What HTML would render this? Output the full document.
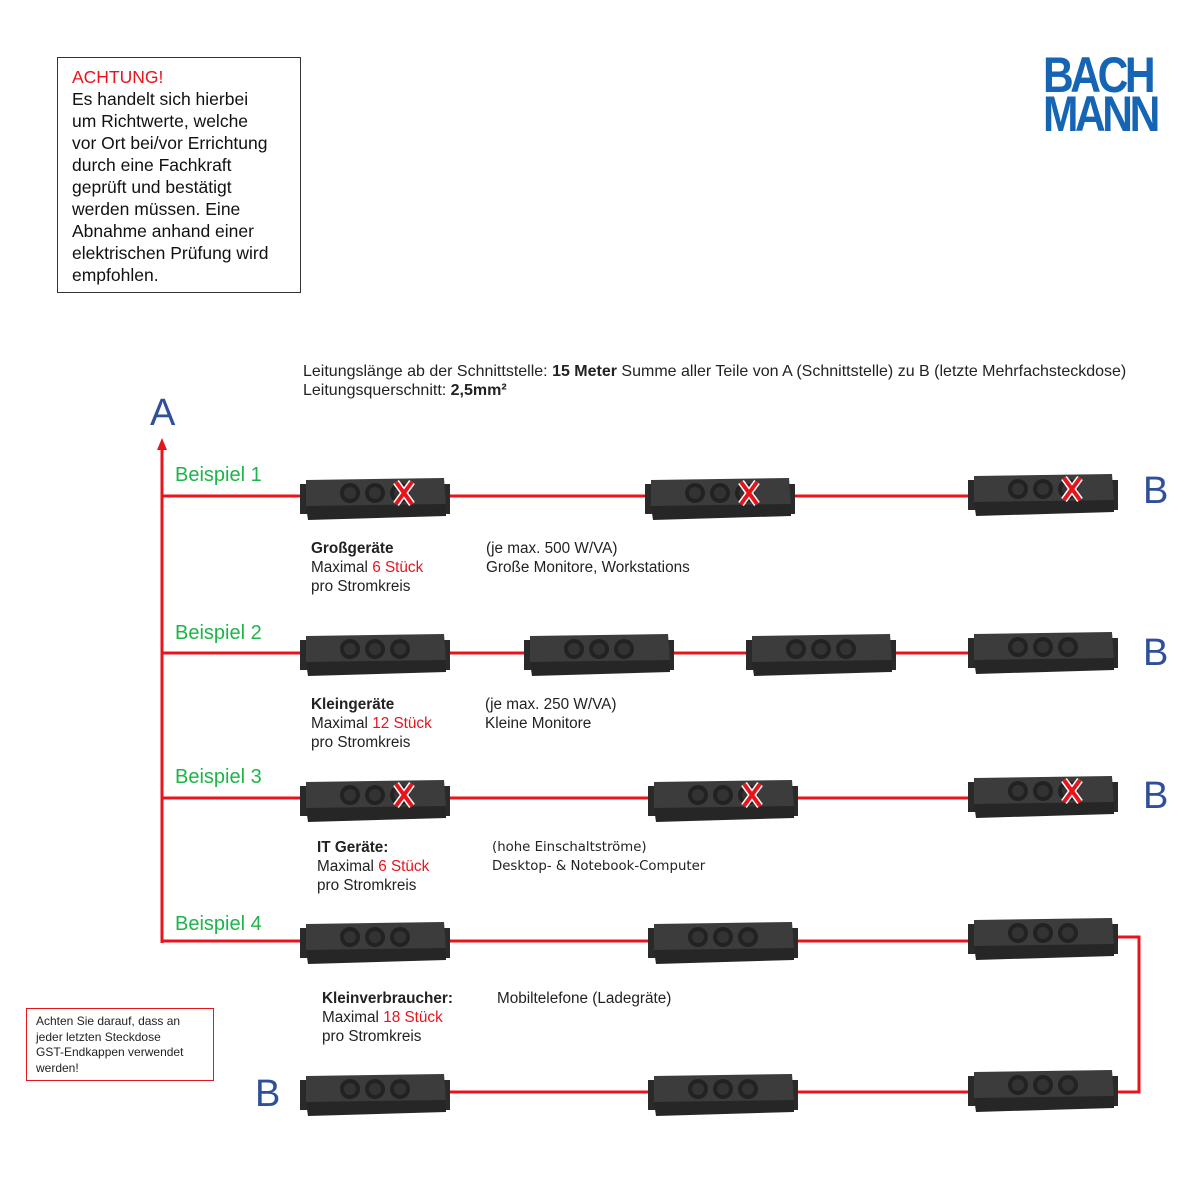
<!DOCTYPE html>
<html><head><meta charset="utf-8"><style>
body{margin:0;width:1200px;height:1200px;background:#fff;position:relative;font-family:"Liberation Sans",sans-serif;overflow:hidden}
.t{position:absolute;font-size:15.3px;line-height:19px;color:#222}
.r{color:#e8141c}
.g{position:absolute;color:#1db54a;font-size:20px}
.B{position:absolute;color:#2e4f9a;font-size:38px}
</style></head><body>
<div style="position:absolute;left:57px;top:57px;width:214px;height:218px;border:1px solid #333;padding:8px 14px;font-size:17.5px;line-height:22px;color:#111"><div style="width:205px"><b class="r" style="font-weight:normal">ACHTUNG!</b><br>Es handelt sich hierbei um Richtwerte, welche vor Ort bei/vor Errichtung durch eine Fachkraft geprüft und bestätigt werden müssen. Eine Abnahme anhand einer elektrischen Prüfung wird empfohlen.</div></div>
<div style="position:absolute;left:1043px;top:56px;color:#1565b4;font-weight:bold;font-size:50px;line-height:39px;letter-spacing:-4px;transform:scaleX(0.85);transform-origin:left">BACH<br>MANN</div>
<div class="t" style="left:303px;top:362px;font-size:16px">Leitungslänge ab der Schnittstelle: <b>15 Meter</b> Summe aller Teile von A (Schnittstelle) zu B (letzte Mehrfachsteckdose)<br>Leitungsquerschnitt: <b>2,5mm²</b></div>
<div class="B" style="left:150px;top:392px">A</div>
<div class="B" style="left:1143px;top:470px">B</div>
<div class="B" style="left:1143px;top:632px">B</div>
<div class="B" style="left:1143px;top:775px">B</div>
<div class="B" style="left:255px;top:1073px">B</div>
<div class="g" style="left:175px;top:464px">Beispiel 1</div>
<div class="g" style="left:175px;top:622px">Beispiel 2</div>
<div class="g" style="left:175px;top:766px">Beispiel 3</div>
<div class="g" style="left:175px;top:913px">Beispiel 4</div>
<div class="t" style="left:311px;top:539px"><b>Großgeräte</b><br>Maximal <span class="r">6 Stück</span><br>pro Stromkreis</div>
<div class="t" style="left:486px;top:539px">(je max. 500 W/VA)<br>Große Monitore, Workstations</div>
<div class="t" style="left:311px;top:695px"><b>Kleingeräte</b><br>Maximal <span class="r">12 Stück</span><br>pro Stromkreis</div>
<div class="t" style="left:485px;top:695px">(je max. 250 W/VA)<br>Kleine Monitore</div>
<div class="t" style="left:317px;top:838px"><b>IT Geräte:</b><br>Maximal <span class="r">6 Stück</span><br>pro Stromkreis</div>
<div class="t" style="left:492px;top:838px;font-family:'DejaVu Sans',sans-serif;font-size:13.3px">(hohe Einschaltströme)<br>Desktop- &amp; Notebook-Computer</div>
<div class="t" style="left:322px;top:989px"><b>Kleinverbraucher:</b><br>Maximal <span class="r">18 Stück</span><br>pro Stromkreis</div>
<div class="t" style="left:497px;top:989px">Mobiltelefone (Ladegräte)</div>
<div style="position:absolute;left:26px;top:1008px;width:168px;height:66px;border:1px solid #e8141c;padding:5px 9px 0;font-size:12px;line-height:15.5px;color:#222"><div style="width:150px">Achten Sie darauf, dass an jeder letzten Steckdose GST-Endkappen verwendet werden!</div></div>
<svg width="1200" height="1200" style="position:absolute;left:0;top:0">
<defs>
<g id="s">
<rect x="0" y="8" width="14" height="30" fill="#2a2a2a"/>
<rect x="136" y="8" width="14" height="30" fill="#2a2a2a"/>
<path d="M6 4 L144 2 L146 30 L6 32Z" fill="#3c3c3c"/>
<path d="M6 30 L146 28 L146 40 L8 44Z" fill="#262626"/>
<circle cx="50" cy="17" r="10" fill="#222"/><circle cx="75" cy="17" r="10" fill="#222"/><circle cx="100" cy="17" r="10" fill="#222"/>
<circle cx="50" cy="17" r="6" fill="#333"/><circle cx="75" cy="17" r="6" fill="#333"/><circle cx="100" cy="17" r="6" fill="#333"/>
</g>
<g id="x"><path d="M96 6 L112 28 M112 6 L96 28" stroke="#fff" stroke-width="7"/><path d="M96 6 L112 28 M112 6 L96 28" stroke="#e8141c" stroke-width="4"/></g>
</defs>
<g stroke="#e8141c" stroke-width="3" fill="none">
<path d="M162 943 V448"/>
<path d="M162 496 H1000"/><path d="M162 653 H1000"/><path d="M162 798 H1000"/><path d="M162 941 H1000"/><path d="M330 1092 H1000"/>
<path d="M1110 937 H1139 V1092 H1110"/>
</g>
<path d="M162 438 L157 450 L167 450Z" fill="#e8141c"/>
<use href="#s" x="300" y="476"/><use href="#x" x="300" y="476"/>
<use href="#s" x="645" y="476"/><use href="#x" x="645" y="476"/>
<use href="#s" x="968" y="472"/><use href="#x" x="968" y="472"/>
<use href="#s" x="300" y="632"/><use href="#s" x="524" y="632"/><use href="#s" x="746" y="632"/><use href="#s" x="968" y="630"/>
<use href="#s" x="300" y="778"/><use href="#x" x="300" y="778"/>
<use href="#s" x="648" y="778"/><use href="#x" x="648" y="778"/>
<use href="#s" x="968" y="774"/><use href="#x" x="968" y="774"/>
<use href="#s" x="300" y="920"/><use href="#s" x="648" y="920"/><use href="#s" x="968" y="916"/>
<use href="#s" x="300" y="1072"/><use href="#s" x="648" y="1072"/><use href="#s" x="968" y="1068"/>
</svg>
</body></html>
